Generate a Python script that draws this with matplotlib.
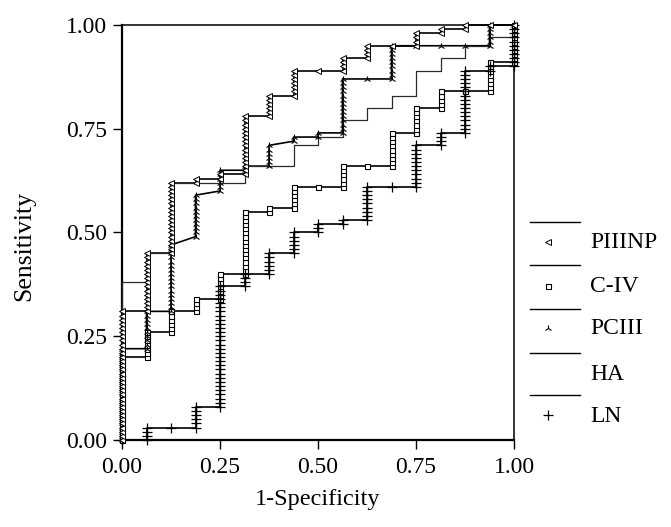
import matplotlib.pyplot as plt

# ROC points: false positives out of N_NEG, true positives out of N_POS
N_NEG = 16
N_POS = 100

piiinp_fp = [0, 0, 1, 1, 2, 2, 3, 3, 4, 4, 5, 5, 6, 6, 7, 7, 9, 9, 10, 10, 12, 12, 13, 13, 14, 14, 16]
piiinp_tp = [0, 31, 31, 45, 45, 62, 62, 63, 63, 64, 64, 78, 78, 83, 83, 89, 89, 92, 92, 95, 95, 98, 98, 99, 99, 100, 100]

civ_fp = [0, 0, 1, 1, 2, 2, 3, 3, 4, 4, 5, 5, 6, 6, 7, 7, 9, 9, 11, 11, 12, 12, 13, 13, 15, 15, 16, 16]
civ_tp = [0, 20, 20, 26, 26, 31, 31, 34, 34, 40, 40, 55, 55, 56, 56, 61, 61, 66, 66, 74, 74, 80, 80, 84, 84, 91, 91, 100]

pciii_fp = [0, 0, 1, 1, 2, 2, 3, 3, 4, 4, 5, 5, 6, 6, 7, 7, 8, 8, 9, 9, 11, 11, 15, 15, 16]
pciii_tp = [0, 22, 22, 31, 31, 47, 49, 59, 60, 65, 65, 66, 66, 71, 72, 73, 73, 74, 74, 87, 87, 95, 95, 100, 100]

ha_fp = [0, 0, 1, 1, 2, 2, 5, 5, 7, 7, 8, 8, 9, 9, 10, 10, 11, 11, 12, 12, 13, 13, 14, 14, 15, 15, 16, 16]
ha_tp = [0, 38, 38, 45, 45, 62, 62, 66, 66, 71, 71, 73, 73, 77, 77, 80, 80, 83, 83, 89, 89, 92, 92, 95, 95, 97, 97, 100]

ln_fp = [0, 1, 1, 3, 3, 4, 4, 5, 5, 6, 6, 7, 7, 8, 8, 9, 9, 10, 10, 12, 12, 13, 13, 14, 14, 15, 15, 16, 16]
ln_tp = [0, 0, 3, 3, 8, 8, 37, 37, 40, 40, 45, 45, 50, 50, 52, 52, 53, 53, 61, 61, 71, 71, 74, 74, 89, 89, 90, 90, 100]

names = ["PIIINP", "C-IV", "PCIII", "HA", "LN"]

plt.rcParams["font.family"] = ["Liberation Serif", "DejaVu Serif"]


def roc_points(fp, tp):
    # every observed (fp, tp) pair along the curve, one per case
    px, py = [fp[0]], [tp[0]]
    for (f0, t0), (f1, t1) in zip(zip(fp, tp), zip(fp[1:], tp[1:])):
        if f0 == f1 and t1 != t0:
            step = 1 if t1 > t0 else -1
            for t in range(t0 + step, t1 + step, step):
                px.append(f0)
                py.append(t)
        elif t0 == t1 and f1 != f0:
            for f in range(f0 + 1, f1 + 1):
                px.append(f)
                py.append(t0)
        else:
            px.append(f1)
            py.append(t1)
    return [x / N_NEG for x in px], [y / N_POS for y in py]


fig = plt.figure(figsize=(6.71, 5.27), dpi=100)
ax = fig.add_axes([122 / 671, 87 / 527, 392 / 671, 415 / 527])

styles = {
    "PIIINP": dict(marker="<", ms=4, mfc="white", mew=0.7),
    "C-IV": dict(marker="s", ms=3.6, mfc="white", mew=0.8),
    "PCIII": dict(marker="2", ms=5, mew=0.8),
    "HA": None,
    "LN": dict(marker="+", ms=7, mew=0.9),
}
data = {
    "PIIINP": (piiinp_fp, piiinp_tp),
    "C-IV": (civ_fp, civ_tp),
    "PCIII": (pciii_fp, pciii_tp),
    "HA": (ha_fp, ha_tp),
    "LN": (ln_fp, ln_tp),
}
marker_z = {"PIIINP": 6, "C-IV": 4, "PCIII": 5, "HA": 4, "LN": 4}

for name in names:
    fp, tp = data[name]
    xs = [f / N_NEG for f in fp]
    ys = [t / N_POS for t in tp]
    lw = 0.9 if name == "HA" else 1.2
    color = "#2a2a2a" if name == "HA" else "black"
    ax.plot(xs, ys, color=color, lw=lw, clip_on=False, zorder=3)
    if styles[name] is not None:
        mx, my = roc_points(fp, tp)
        ax.plot(mx, my, ls="none", color="black", mec="black", clip_on=False,
                zorder=marker_z[name], **styles[name])

ax.set_xlim(0, 1)
ax.set_ylim(0, 1)
ticks = [0, 0.25, 0.5, 0.75, 1.0]
ax.set_xticks(ticks)
ax.set_yticks(ticks)
ax.set_xticklabels([f"{t:.2f}" for t in ticks], fontsize=17)
ax.set_yticklabels([f"{t:.2f}" for t in ticks], fontsize=17)
ax.tick_params(direction="out", length=6.5, width=1.0, colors="black")
ax.tick_params(axis="x", pad=6)
ax.tick_params(axis="y", pad=4)
for side in ["left", "bottom"]:
    ax.spines[side].set_linewidth(1.6)
for side in ["top", "right"]:
    ax.spines[side].set_linewidth(1.1)

fig.text(318 / 671, 1 - 500 / 527, "1-Specificity", fontsize=17.5, ha="center", va="center")
fig.text(24 / 671, 1 - 246 / 527, "Sensitivity", fontsize=18.5, ha="center", va="center",
         rotation=90)

# legend outside, drawn in pixel space
leg = fig.add_axes([0, 0, 1, 1], facecolor="none")
leg.set_xlim(0, 671)
leg.set_ylim(527, 0)
leg.axis("off")
line_y = [222, 265, 309, 353, 395]
mark_y = [242, 286, 328, 373, 415]
for name, ly, my in zip(names, line_y, mark_y):
    leg.plot([530, 580], [ly, ly], color="black", lw=1.0)
    if styles[name] is not None:
        leg.plot([548], [my], ls="none", color="black", mec="black", **styles[name])
    leg.text(590, my + 1, name, fontsize=17, ha="left", va="center")

fig.savefig("out.png", dpi=100)
